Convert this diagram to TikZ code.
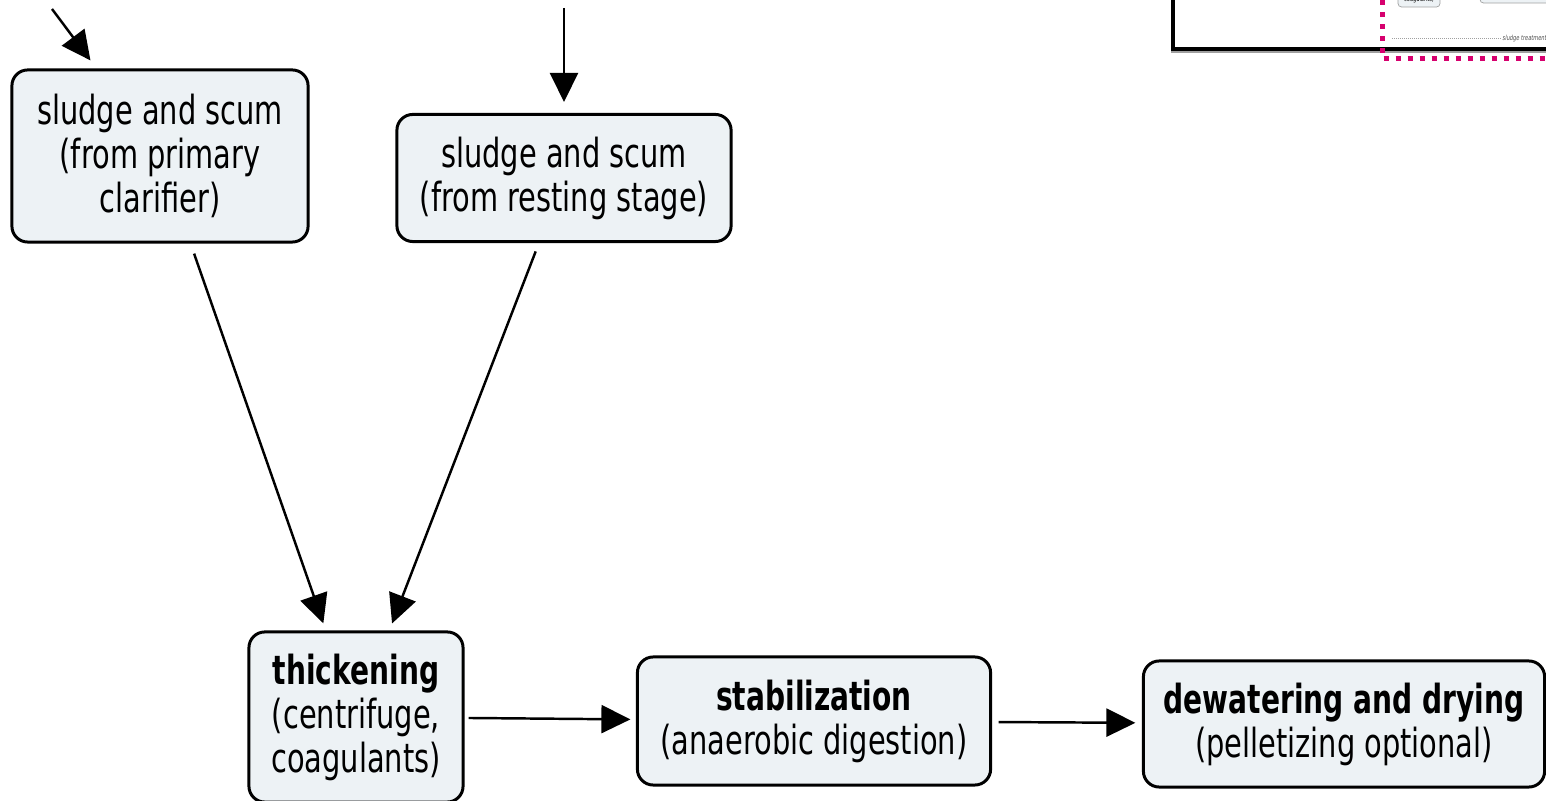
\documentclass[tikz,border=0pt]{standalone}
\usepackage{fontspec}
\setmainfont{DejaVu Sans}[FakeStretch=0.72, BoldFeatures={FakeStretch=0.70}]
\usetikzlibrary{arrows.meta, positioning, calc}
\definecolor{boxfill}{HTML}{EDF2F5}
\definecolor{mapmagenta}{HTML}{D6006E}
\definecolor{mapgray}{HTML}{A0A0A0}

\begin{document}
\begin{tikzpicture}[x=0.01cm, y=-0.01cm,
  stage/.style={rectangle, rounded corners=4.5pt, fill=boxfill, draw=black,
    line width=0.85pt, inner sep=0pt, align=center,
    font=\fontsize{11.4}{12.5}\selectfont},
  thumb/.style={rectangle, rounded corners=1pt, fill=boxfill, draw=mapgray,
    line width=0.2pt, inner sep=0pt, font=\fontsize{2}{2.4}\selectfont},
  arrow/.style={-{Triangle[length=0.29cm, width=0.28cm]}, line width=0.7pt, black}
]
  \useasboundingbox (0,0) rectangle (1546,801);

  % sludge sources
  \node[stage, minimum width=2.96cm, minimum height=1.72cm] (primary) at (160,156)
    {sludge and scum\\(from primary\\clarifier)};
  \node[stage, minimum width=3.34cm, minimum height=1.27cm] (resting) at (564,178)
    {sludge and scum\\(from resting stage)};

  % treatment chain
  \node[stage, minimum width=2.14cm, minimum height=1.70cm] (thicken) at (356,717)
    {\textbf{thickening}\\(centrifuge,\\coagulants)};
  \node[stage, minimum width=3.53cm, minimum height=1.28cm] (stabil) at (814,721)
    {\textbf{stabilization}\\(anaerobic digestion)};
  \node[stage, minimum width=4.01cm, minimum height=1.26cm] (dewater) at (1344,724)
    {\textbf{dewatering and drying}\\(pelletizing optional)};

  % incoming links from above
  \coordinate (feedA) at (52,9);
  \coordinate (feedB) at (resting.north |- 0,8);
  \draw[arrow, shorten >=0.1cm] (feedA) -- ([xshift=0.86cm]primary.north west);
  \draw[arrow, shorten >=0.11cm] (feedB) -- (resting.north);

  \draw[arrow, shorten <=0.107cm, shorten >=0.075cm] (primary) -- (thicken);
  \draw[arrow, shorten <=0.09cm, shorten >=0.075cm] (resting) -- (thicken);
  \draw[arrow, shorten <=0.04cm, shorten >=0.055cm] (thicken) -- (stabil);
  \draw[arrow, shorten <=0.065cm, shorten >=0.065cm] (stabil) -- (dewater);

  % overview thumbnail (top right)
  \draw[line width=0.045cm] (1173,-20) -- (1173,49.5) -- (1570,49.5);
  \draw[mapgray, line width=0.02cm] (1171,52.5) -- (1570,52.5);
  \node[thumb, minimum width=0.42cm, minimum height=0.14cm] (minithick) at (1419,0) {coagulants)};
  \node[thumb, minimum width=0.8cm, minimum height=0.1cm] (ministab) at (1520,-2) {};
  \draw[mapgray, line width=0.01cm, dash pattern=on 0.01cm off 0.01cm] (1392,39) -- (1501,39);
  \node[anchor=west, inner sep=0pt, font=\fontsize{2}{2.4}\selectfont\itshape, black!70] (mapnote)
    at (1502,39) {sludge treatment};
  \draw[mapmagenta, line width=0.05cm, dash pattern=on 0.05cm off 0.07cm]
    (1382,0) -- (1382,58.5) -- (1560,58.5);
\end{tikzpicture}
\end{document}
